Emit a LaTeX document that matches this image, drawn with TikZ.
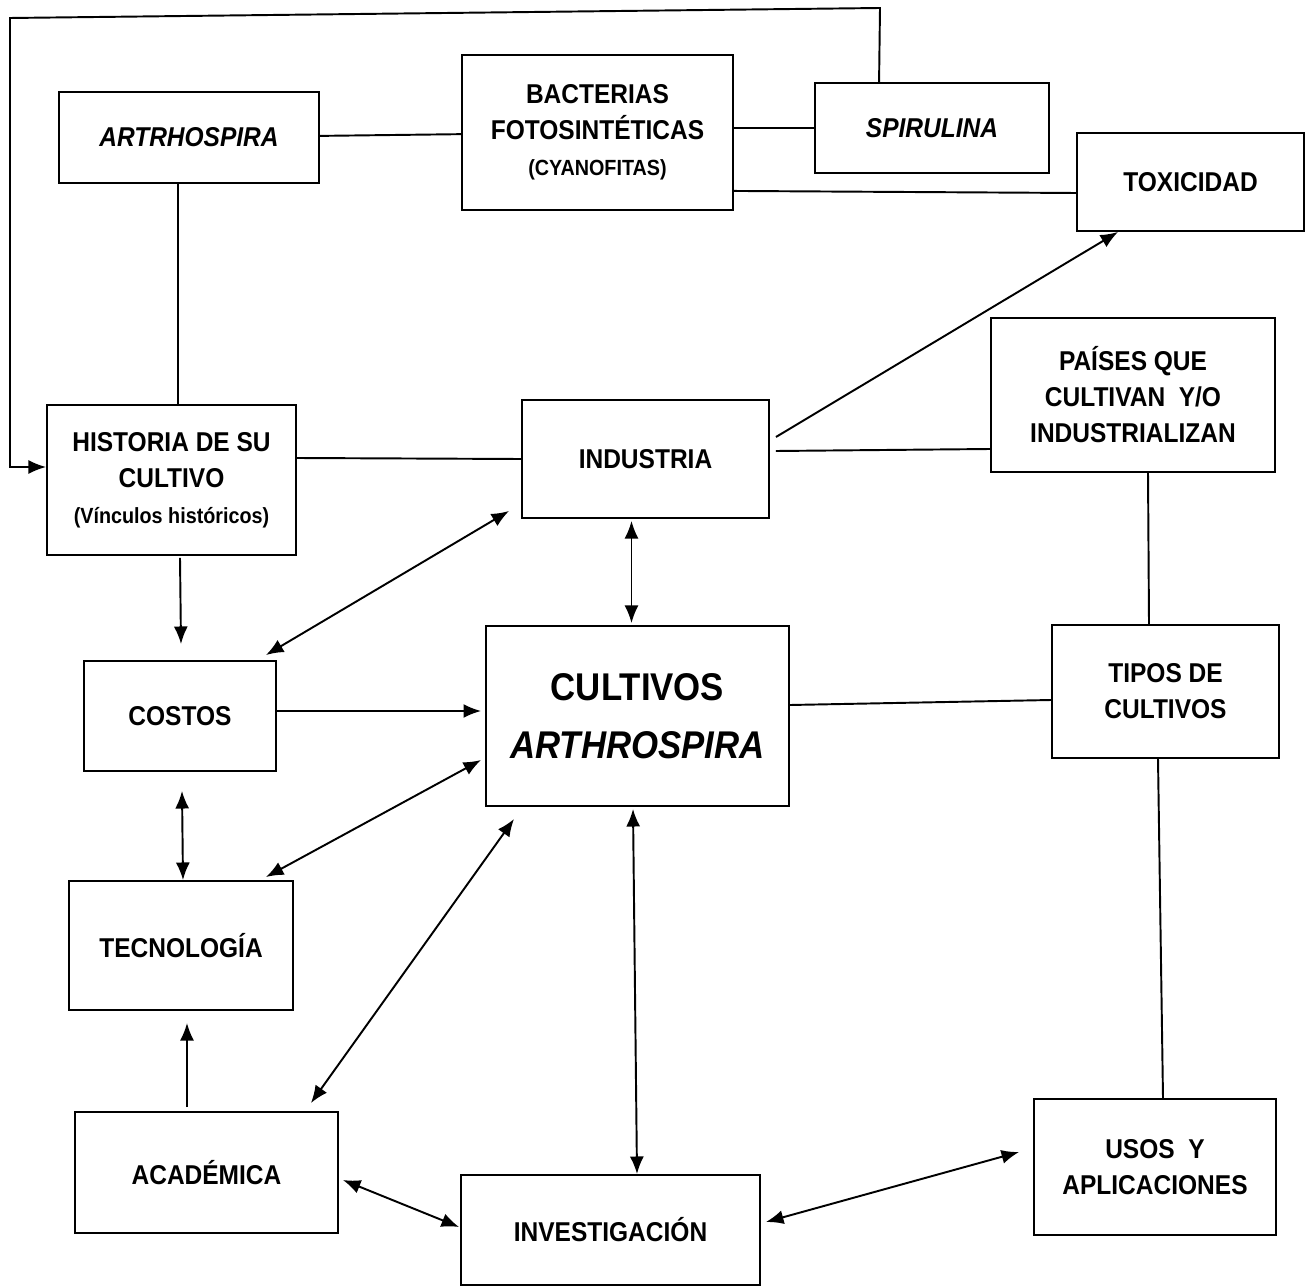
\documentclass[tikz,border=0pt]{standalone}
\usepackage{fontspec}
\setmainfont{Liberation Sans}[FakeStretch=0.9]
\usetikzlibrary{arrows.meta,calc}
\begin{document}
\begin{tikzpicture}[x=0.02cm,y=-0.02cm,
  box/.style={draw,line width=1.1pt,inner sep=0pt,align=center,
    font=\fontsize{15.5}{20.5}\selectfont\bfseries},
  link/.style={line width=1.1pt},
  arr/.style={line width=1.1pt,-{Latex[length=10pt,width=8pt]}},
  darr/.style={line width=1.1pt,{Latex[length=10pt,width=8pt]}-{Latex[length=10pt,width=8pt]}}]
\useasboundingbox (0,0) rectangle (1308,1287);
\fill[white] (0,0) rectangle (1308,1287);

% boxes
\node[box,minimum width=5.2cm,minimum height=1.82cm] (art) at (189,137.5) {\itshape ARTRHOSPIRA};
\node[box,minimum width=5.42cm,minimum height=3.1cm] (bac) at (597.5,132.5)
  {\rule{0pt}{8pt}BACTERIAS\\FOTOSINTÉTICAS\\{\fontsize{12.5}{16}\selectfont (CYANOFITAS)}};
\node[box,minimum width=4.68cm,minimum height=1.8cm] (spi) at (932,128) {\itshape SPIRULINA};
\node[box,minimum width=4.54cm,minimum height=1.96cm] (tox) at (1190.5,182) {TOXICIDAD};
\node[box,minimum width=4.98cm,minimum height=3.0cm] (his) at (171.5,480)
  {HISTORIA DE SU\\CULTIVO\\{\fontsize{12.5}{16}\selectfont (Vínculos históricos)}};
\node[box,minimum width=4.94cm,minimum height=2.36cm] (ind) at (645.5,459) {INDUSTRIA};
\node[box,minimum width=5.68cm,minimum height=3.08cm] (pai) at (1133,395)
  {PAÍSES QUE\\CULTIVAN\ \ Y/O\\INDUSTRIALIZAN};
\node[box,minimum width=3.84cm,minimum height=2.2cm] (cos) at (180,716) {COSTOS};
\node[box,minimum width=6.06cm,minimum height=3.6cm,
  font=\fontsize{22}{33}\selectfont\bfseries] (cul) at (637.5,716)
  {CULTIVOS\\\itshape ARTHROSPIRA};
\node[box,minimum width=4.54cm,minimum height=2.66cm] (tip) at (1165.5,691.5) {TIPOS DE\\CULTIVOS};
\node[box,minimum width=4.48cm,minimum height=2.58cm] (tec) at (181,945.5) {TECNOLOGÍA};
\node[box,minimum width=5.26cm,minimum height=2.42cm] (aca) at (206.5,1172.5) {ACADÉMICA};
\node[box,minimum width=5.98cm,minimum height=2.2cm] (inv) at (610.5,1230) {INVESTIGACIÓN};
\node[box,minimum width=4.84cm,minimum height=2.72cm] (uso) at (1155,1167) {USOS\ \ Y\\APLICACIONES};

% feedback loop from SPIRULINA back to the history box
\coordinate (loopR) at (880,8);
\coordinate (loopL) at (10,18);
\draw[arr] ($(spi.north west)+(65,0)$) -- (loopR) -- (loopL) |- ($(his.west)+(0,-13)$);

% plain links
\draw[link] (art) -- (bac);
\draw[link] (bac.east |- spi.west) -- (spi.west);
\draw[link] ($(bac.south east)+(0,-20)$) -- ($(tox.west)+(0,11)$);
\draw[link] ($(art.south)+(-11,0)$) -- ($(his.north)+(6.5,0)$);
\draw[link] ($(his.east)+(0,-22)$) -- (ind.west);
\draw[link] ($(ind.east)+(6,-8)$) -- ($(pai.west)+(0,54)$);
\draw[link] ($(cul.east)+(0,-11)$) -- ($(tip.west)+(0,8.5)$);
\draw[link] ($(pai.south)+(15,0)$) -- ($(tip.north)+(-16.5,0)$);
\draw[link] ($(tip.south)+(-7.5,0)$) -- ($(uso.north)+(8,0)$);

% arrows
\draw[arr] ($(ind.east)+(6,-22)$) -- ($(tox.south west)+(42,0)$);
\draw[arr] ($(his.south)+(8.5,2)$) -- ($(cos.north)+(1,-16)$);
\draw[darr] ($(ind.south)+(-14,2)$) -- ($(cul.north)+(-6,-2)$);
\draw[darr] ($(cos.north east)+(-11,-5)$) -- ($(ind.south west)+(-12,-8)$);
\draw[arr] ($(cos.east)+(0,-5)$) -- ($(cul.west)+(-4,-5)$);
\draw[darr] ($(cos.south)+(2,19)$) -- ($(tec.north)+(2,0)$);
\draw[darr] ($(tec.north east)+(-28,-3)$) -- ($(cul.west)+(-4,44)$);
\draw[arr] ($(aca.north)+(-19.5,-4)$) -- ($(tec.south)+(6,12)$);
\draw[darr] ($(aca.north east)+(-28,-8)$) -- ($(cul.south west)+(29,12)$);
\draw[darr] ($(cul.south)+(-4.5,2)$) -- ($(inv.north)+(26.5,0)$);
\draw[darr] ($(aca.east)+(4,7.5)$) -- ($(inv.west)+(-1,-3)$);
\draw[darr] ($(inv.east)+(5,-8)$) -- ($(uso.west)+(-14,-15)$);
\end{tikzpicture}
\end{document}
